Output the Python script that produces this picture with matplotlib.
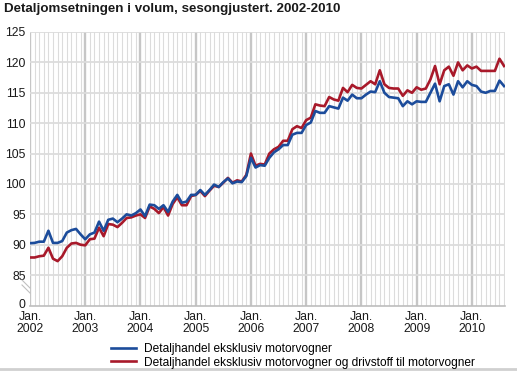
import matplotlib
matplotlib.use("Agg")
import matplotlib.pyplot as plt
from matplotlib.lines import Line2D
import numpy as np

plt.rcParams["font.family"] = ["Liberation Sans", "DejaVu Sans"]

# ── data (monthly, Jan 2002 - Aug 2010) ──────────────────────────────────────
years = list(range(2002, 2011))
ex_motor = [
    90.25, 90.3, 90.5, 90.5, 92.3, 90.3, 90.3, 90.6, 92.0, 92.4, 92.6, 91.7,
    90.9, 91.7, 92.0, 93.8, 92.3, 94.1, 94.3, 93.7, 94.3, 95.0, 94.8, 95.2,
    95.8, 94.7, 96.6, 96.5, 95.9, 96.5, 95.4, 97.1, 98.2, 96.9, 97.1, 98.2,
    98.2, 99.0, 98.2, 99.0, 99.9, 99.5, 100.3, 100.9, 100.1, 100.4, 100.3, 101.3,
    104.3, 102.7, 103.1, 103.0, 104.3, 105.2, 105.7, 106.4, 106.4, 108.1, 108.4, 108.4,
    109.7, 110.1, 112.0, 111.7, 111.7, 112.8, 112.6, 112.4, 114.2, 113.7, 114.7, 114.1,
    114.1, 114.7, 115.2, 115.1, 116.9, 115.0, 114.3, 114.2, 114.1, 112.8, 113.6, 113.1,
    113.6, 113.5, 113.5, 115.0, 116.5, 113.6, 116.1, 116.4, 114.7, 116.9, 115.9, 116.9,
    116.3, 116.1, 115.2, 115.0, 115.3, 115.3, 117.0, 116.1,
]
ex_motor_fuel = [
    87.9, 87.9, 88.1, 88.2, 89.5, 87.7, 87.3, 88.1, 89.5, 90.2, 90.3, 90.0,
    89.9, 90.9, 91.0, 92.8, 91.4, 93.4, 93.3, 92.9, 93.6, 94.4, 94.5, 94.8,
    95.0, 94.4, 96.3, 95.9, 95.2, 96.2, 94.8, 96.7, 97.8, 96.5, 96.5, 98.0,
    98.2, 98.85, 98.0, 98.9, 99.7, 99.5, 100.2, 101.0, 100.2, 100.6, 100.4, 101.5,
    105.0, 103.0, 103.3, 103.2, 105.0, 105.7, 106.1, 107.1, 107.1, 109.0, 109.5, 109.2,
    110.5, 110.9, 113.1, 112.9, 112.8, 114.3, 113.9, 113.7, 115.8, 115.1, 116.3, 115.8,
    115.7, 116.3, 116.9, 116.4, 118.7, 116.4, 115.8, 115.7, 115.7, 114.5, 115.4, 115.0,
    115.9, 115.5, 115.7, 117.2, 119.4, 116.4, 118.7, 119.3, 117.8, 120.0, 118.7, 119.5,
    119.0, 119.3, 118.6, 118.6, 118.6, 118.6, 120.6, 119.4,
]
labels = ["Detaljhandel eksklusiv motorvogner",
          "Detaljhandel eksklusiv motorvogner og drivstoff til motorvogner"]
ytick_vals = [80.4, 85, 90, 95, 100, 105, 110, 115, 120, 125]
ytick_text = ["0", "85", "90", "95", "100", "105", "110", "115", "120", "125"]

BLUE = "#1c4c9b"
RED = "#a8192a"
GRID = "#dcdcdc"
GRID_J = "#c6c6c6"
INK = "#1a1a1a"

W, H = 517, 371
fig = plt.figure(figsize=(W / 100, H / 100), dpi=100)
ax = fig.add_axes([30 / W, 1 - 305.5 / H, 475 / W, 273.5 / H])

months = np.arange(len(ex_motor))
ax.set_xlim(0, 103.2)
ax.set_ylim(80, 125)

# grid: every month, january stronger
for m in range(0, 104):
    jan = m % 12 == 0
    ax.axvline(m, color=GRID_J if jan else GRID, lw=1.7 if jan else 0.8, zorder=0)
for v in ytick_vals[1:]:
    ax.axhline(v, color=GRID, lw=1.3, zorder=0)

ax.plot(months, ex_motor, color=BLUE, lw=1.9, zorder=3)
ax.plot(months, ex_motor_fuel, color=RED, lw=1.9, zorder=2)

ax.set_yticks(ytick_vals)
ax.set_yticklabels(ytick_text, fontsize=8.8, color=INK)
ax.set_xticks([12 * i for i in range(len(years))])
ax.set_xticklabels([f"Jan.\n{y}" for y in years], fontsize=8.8, color=INK,
                   linespacing=0.95)
ax.tick_params(axis="y", length=0, pad=3)
ax.tick_params(axis="x", length=0, pad=4)
for s in ["top", "right", "left"]:
    ax.spines[s].set_visible(False)
ax.spines["bottom"].set_color("#bdbdbd")
ax.spines["bottom"].set_linewidth(1.2)

# axis break marks
for dy in (0, 5):
    fig.add_artist(Line2D([22 / W, 30 / W], [1 - (280 + dy) / H, 1 - (288 + dy) / H],
                          color="#c0c0c0", lw=0.8))

fig.text(4 / W, 1 - 9 / H, "Detaljomsetningen i volum, sesongjustert. 2002-2010",
         fontsize=9.6, weight="bold", color=INK, va="center", ha="left")

handles = [Line2D([], [], color=BLUE, lw=1.9), Line2D([], [], color=RED, lw=1.9)]
fig.legend(handles, labels, loc="upper left", bbox_to_anchor=(103 / W, 1 - 335 / H),
           frameon=False, fontsize=8.6, handlelength=2.1, handletextpad=0.6,
           labelspacing=0.1, borderpad=0.2)

fig.add_artist(Line2D([0, 1], [1 - 369 / H, 1 - 369 / H], color="#d0d0d0", lw=2))

fig.savefig("out.png", dpi=100, facecolor="white")
